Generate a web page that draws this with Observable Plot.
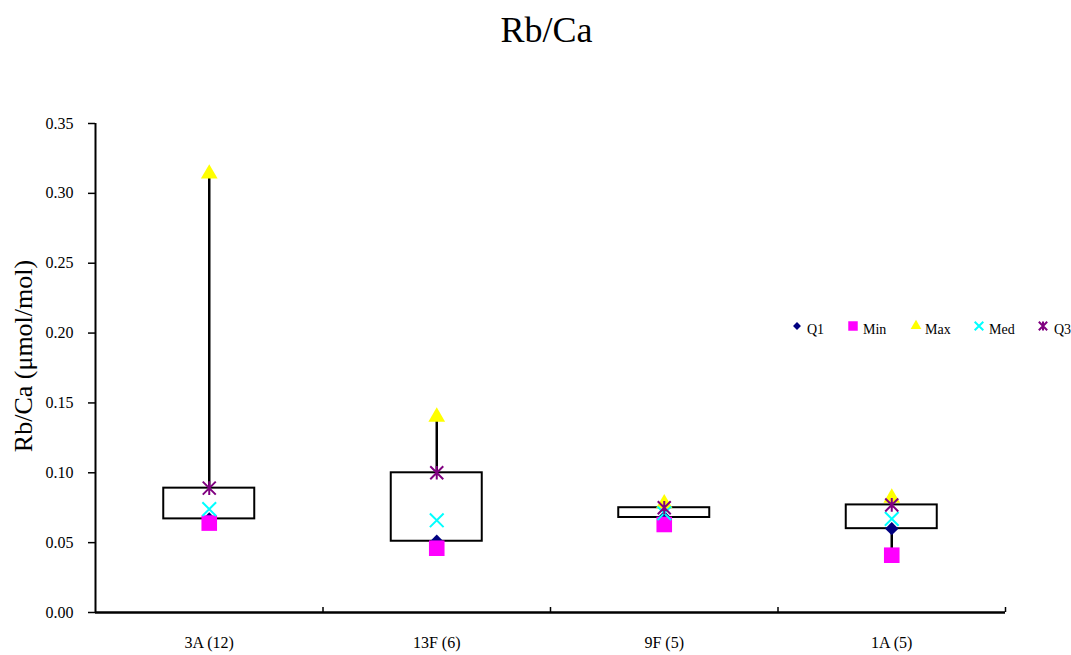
<!DOCTYPE html>
<html>
<head>
<meta charset="utf-8">
<script src="https://cdn.jsdelivr.net/npm/d3@7"></script>
<script src="https://cdn.jsdelivr.net/npm/@observablehq/plot@0.6"></script>
<style>
  html, body { margin: 0; padding: 0; background: #fff; }
  #wrap { position: relative; width: 1071px; height: 655px; font-family: "Liberation Serif", "Times New Roman", serif; }
  #title { height: 48px; padding-top: 12px; width: 1071px; box-sizing: content-box; text-align: center; font-size: 36px; line-height: 36px; color: #000; }
  #title span { position: relative; left: 11px; }
  #legend { position: absolute; left: 780px; top: 313px; }
  #chart svg text { font-family: "Liberation Serif", "Times New Roman", serif; }
</style>
</head>
<body>
<div id="wrap">
  <div id="title"><span>Rb/Ca</span></div>
  <div id="chart"></div>
  <div id="legend"></div>
</div>
<script>
const categories = ["3A (12)", "13F (6)", "9F (5)", "1A (5)"];
const q1Vals  = [0.067, 0.051, 0.068, 0.060];
const minVals = [0.064, 0.046, 0.063, 0.041];
const maxVals = [0.314, 0.140, 0.078, 0.082];
const medVals = [0.074, 0.066, 0.071, 0.067];
const q3Vals  = [0.089, 0.100, 0.075, 0.077];
const yTicks  = [0, 0.05, 0.10, 0.15, 0.20, 0.25, 0.30, 0.35];
const yLabel  = "Rb/Ca (μmol/mol)";
const seriesNames = ["Q1", "Min", "Max", "Med", "Q3"];

const rows = categories.map((c, i) => ({
  i, c, q1: q1Vals[i], min: minVals[i], max: maxVals[i], med: medVals[i], q3: q3Vals[i]
}));

const starSymbol = {
  draw(ctx, size) {
    const r = Math.sqrt(size / Math.PI);
    ctx.moveTo(-r, -r); ctx.lineTo(r, r);
    ctx.moveTo(-r, r); ctx.lineTo(r, -r);
    ctx.moveTo(0, -r * 1.05); ctx.lineTo(0, r * 1.05);
  }
};

const cx = d => d.i + 0.5;
const font = "'Liberation Serif', 'Times New Roman', serif";

const chart = Plot.plot({
  width: 1071,
  height: 595,
  marginLeft: 95,
  marginRight: 66,
  marginTop: 63,
  marginBottom: 43,
  style: `font-family: ${font}; font-size: 16px; color: #000; background: #fff;`,
  x: { type: "linear", domain: [0, categories.length], axis: null },
  y: { domain: [0, 0.35], axis: null },
  marks: [
    // whiskers
    Plot.ruleX(rows, { x: cx, y1: "q3", y2: "max", stroke: "#000", strokeWidth: 2.5 }),
    Plot.ruleX(rows, { x: cx, y1: "min", y2: "q1", stroke: "#000", strokeWidth: 2.5 }),
    // boxes
    Plot.rect(rows, { x1: d => d.i + 0.3, x2: d => d.i + 0.7, y1: "q1", y2: "q3", fill: "#fff", stroke: "#000", strokeWidth: 2 }),
    // axes
    Plot.axisY({ ticks: yTicks, tickFormat: d3.format(".2f"), tickSize: 7, tickPadding: 15, fontSize: 16, label: null, strokeWidth: 1.5 }),
    Plot.axisX({ ticks: d3.range(1, categories.length + 1), tickFormat: () => "", tickSize: 5, dy: -5, label: null, strokeWidth: 1.5 }),
    Plot.axisX({ ticks: categories.map((c, i) => i + 0.5), tickFormat: v => categories[Math.floor(v)], tickSize: 0, tickPadding: 24, fontSize: 16, label: null }),
    Plot.ruleX([0], { stroke: "#000", strokeWidth: 2 }),
    Plot.ruleY([0], { stroke: "#000", strokeWidth: 2.5 }),
    Plot.text([yLabel], { frameAnchor: "left", textAnchor: "middle", rotate: -90, dx: -72, dy: -12, fontSize: 26, fill: "#000" }),
    // series markers
    Plot.dot(rows, { x: cx, y: "q1", symbol: "diamond2", r: 6, fill: "#000080", stroke: "none" }),
    Plot.dot(rows, { x: cx, y: "min", symbol: "square", r: 8.8, fill: "#FF00FF", stroke: "none" }),
    Plot.dot(rows, { x: cx, y: "max", symbol: "triangle", r: 6.2, fill: "#FFFF00", stroke: "none" }),
    Plot.dot(rows, { x: cx, y: "med", symbol: "times", r: 6.3, fill: "none", stroke: "#00FFFF", strokeWidth: 2 }),
    Plot.dot(rows, { x: cx, y: "q3", symbol: starSymbol, r: 6.5, fill: "none", stroke: "#800080", strokeWidth: 2 })
  ]
});
document.getElementById("chart").appendChild(chart);

// legend
const legendSpec = [
  { name: seriesNames[0], sym: d3.symbolDiamond2, size: 40, fill: "#000080", stroke: "none", sx: 17, tx: 27 },
  { name: seriesNames[1], sym: d3.symbolSquare, size: 90, fill: "#FF00FF", stroke: "none", sx: 73, tx: 83 },
  { name: seriesNames[2], sym: d3.symbolTriangle, size: 50, fill: "#FFFF00", stroke: "none", sx: 136, tx: 145 },
  { name: seriesNames[3], sym: d3.symbolTimes, size: 50, fill: "none", stroke: "#00FFFF", sx: 199, tx: 209 },
  { name: seriesNames[4], sym: starSymbol, size: 55, fill: "none", stroke: "#800080", sx: 263, tx: 274 }
];
const lsvg = d3.select("#legend").append("svg").attr("width", 291).attr("height", 28);
const g = lsvg.selectAll("g").data(legendSpec).join("g");
g.append("path")
  .attr("transform", d => `translate(${d.sx},13)`)
  .attr("d", d => d3.symbol(d.sym, d.size)())
  .attr("fill", d => d.fill)
  .attr("stroke", d => d.stroke)
  .attr("stroke-width", 2);
g.append("text")
  .attr("x", d => d.tx)
  .attr("y", 21)
  .attr("font-family", font)
  .attr("font-size", 14)
  .text(d => d.name);
</script>
</body>
</html>
